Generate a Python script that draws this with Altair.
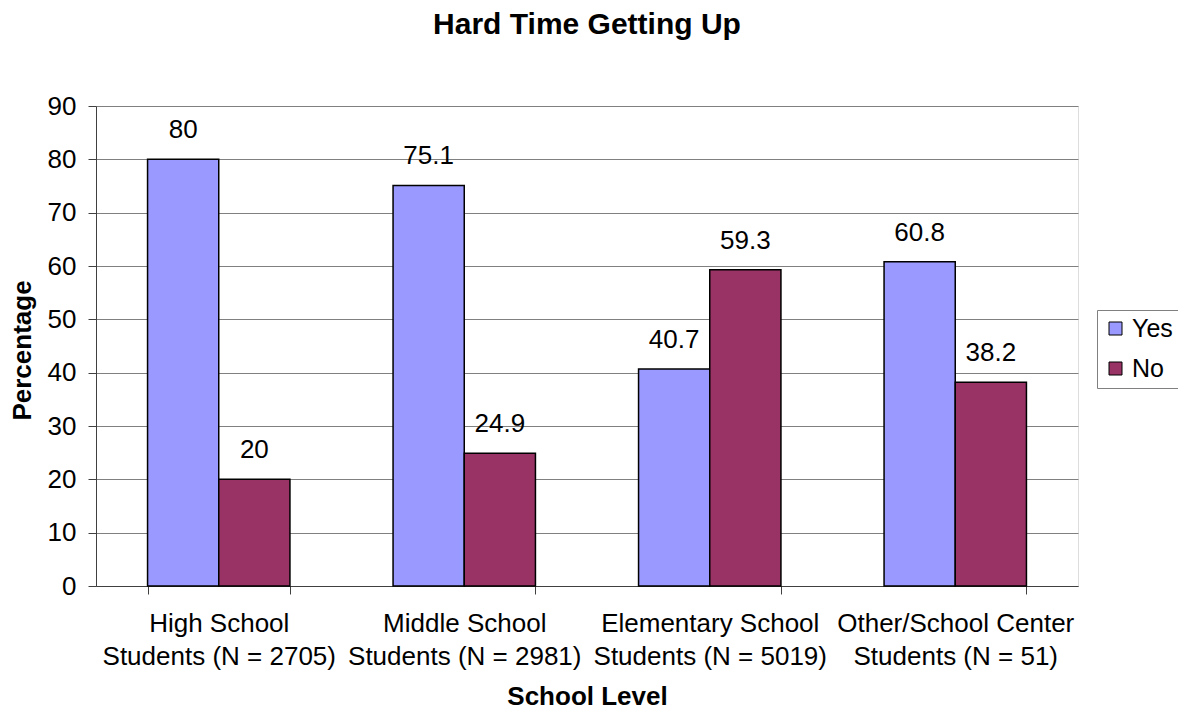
import altair as alt
import pandas as pd

categories = [
    "High School|Students (N = 2705)",
    "Middle School|Students (N = 2981)",
    "Elementary School|Students (N = 5019)",
    "Other/School Center|Students (N = 51)",
]
series = ["Yes", "No"]
yes_values = [80, 75.1, 40.7, 60.8]
no_values = [20, 24.9, 59.3, 38.2]
colors = ["#9999FF", "#993366"]
y_ticks = [0, 10, 20, 30, 40, 50, 60, 70, 80, 90]

rows = []
for c, yv, nv in zip(categories, yes_values, no_values):
    rows.append({"School": c, "Answer": "Yes", "Value": yv})
    rows.append({"School": c, "Answer": "No", "Value": nv})
df = pd.DataFrame(rows)

FONT = "Liberation Sans"
FS = 26

x_enc = alt.X(
    "School:N",
    sort=categories,
    scale=alt.Scale(paddingInner=0.42, paddingOuter=0.21),
    axis=alt.Axis(
        title="School Level",
        labelExpr="split(datum.label, '|')",
        labelAngle=0,
        labelFont=FONT,
        labelFontSize=FS,
        labelColor="black",
        labelLineHeight=33,
        labelPadding=16,
        labelBaseline="top",
        labelLimit=0,
        tickBand="extent",
        tickSize=8,
        tickColor="#404040",
        domainColor="#404040",
        titleFont=FONT,
        titleFontSize=FS,
        titleFontWeight="bold",
        titleColor="black",
        titleX=491,
        titleY=118,
        titleBaseline="alphabetic",
        titleAnchor="middle",
        grid=False,
    ),
)
xoff = alt.XOffset("Answer:N", sort=series, scale=alt.Scale(paddingInner=0, paddingOuter=0))
y_enc = alt.Y(
    "Value:Q",
    scale=alt.Scale(domain=[0, 90], nice=False),
    axis=alt.Axis(
        title="Percentage",
        values=y_ticks,
        labelFont=FONT,
        labelFontSize=FS,
        labelColor="black",
        labelPadding=12,
        tickSize=8,
        tickColor="#404040",
        domainColor="#404040",
        gridColor="#808080",
        gridWidth=1,
        titleFont=FONT,
        titleFontSize=FS,
        titleFontWeight="bold",
        titleColor="black",
        titleX=-74,
        titleY=244,
        titleAngle=-90,
        titleBaseline="middle",
        titleAlign="center",
    ),
)

bars = alt.Chart(df).mark_bar(stroke="black", strokeWidth=1.5).encode(
    x=x_enc,
    xOffset=xoff,
    y=y_enc,
    color=alt.Color(
        "Answer:N",
        sort=series,
        scale=alt.Scale(domain=series, range=colors),
        legend=alt.Legend(
            title=None,
            orient="none",
            legendX=1001,
            legendY=204,
            symbolType="square",
            symbolSize=169,
            symbolStrokeColor="black",
            symbolStrokeWidth=1,
            symbolOpacity=1,
            labelFont=FONT,
            labelFontSize=25,
            labelColor="black",
            labelOffset=4,
            labelLimit=0,
            rowPadding=14,
            padding=6,
            strokeColor="#808080",
            fillColor="white",
        ),
    ),
)

labels = alt.Chart(df).mark_text(
    font=FONT, fontSize=FS, color="black", baseline="alphabetic", dy=-21
).encode(
    x=alt.X("School:N", sort=categories),
    xOffset=alt.XOffset("Answer:N", sort=series),
    y=alt.Y("Value:Q"),
    text=alt.Text("Value:Q"),
)

chart = (
    alt.layer(bars, labels)
    .properties(
        width=982,
        height=480,
        title=alt.TitleParams(
            "Hard Time Getting Up",
            font=FONT,
            fontSize=30,
            fontWeight="bold",
            color="black",
            anchor="middle",
            baseline="alphabetic",
            offset=29,
        ),
        autosize=alt.AutoSizeParams(type="none"),
        padding={"left": 88, "top": 98, "right": 100, "bottom": 124},
    )
    .configure_view(stroke="#808080", strokeWidth=1)
    .configure(background="white")
)

chart.save("out.html", embed_options={"renderer": "svg", "actions": False})
